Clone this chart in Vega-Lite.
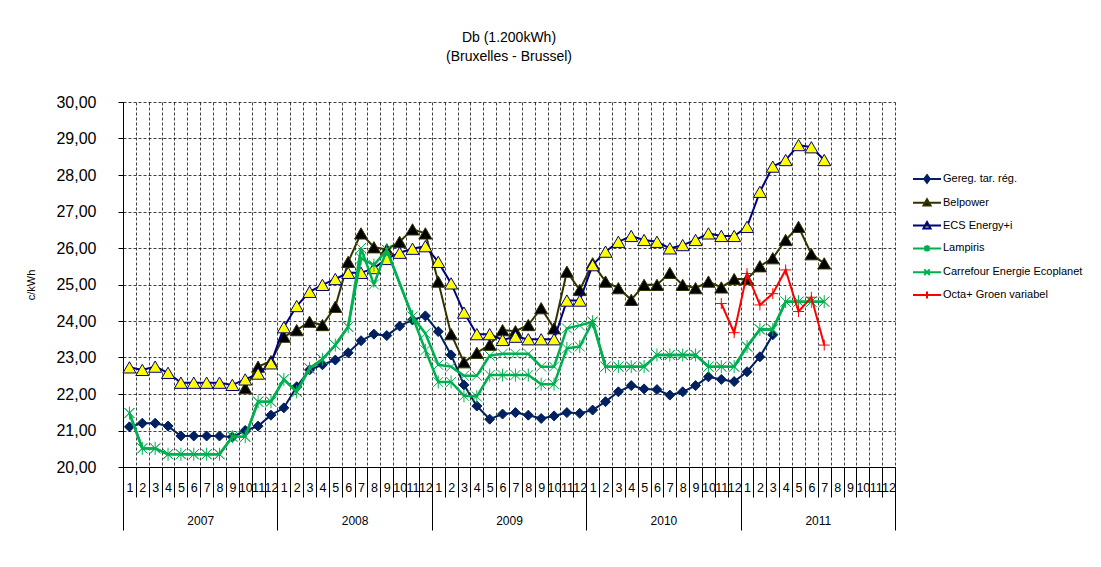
{
  "$schema": "https://vega.github.io/schema/vega-lite/v6.json",
  "width": 772,
  "height": 365,
  "autosize": {"type": "none"},
  "padding": {"left": 123, "top": 102, "right": 206, "bottom": 100},
  "background": "white",
  "title": {"text": ["Db (1.200kWh)", "(Bruxelles - Brussel)"], "fontSize": 14, "fontWeight": "normal", "anchor": "middle", "offset": 30, "lineHeight": 19, "color": "#000", "font": "Liberation Sans"},
  "config": {
    "font": "Liberation Sans",
    "view": {"stroke": null},
    "axis": {"labelFont": "Liberation Sans", "titleFont": "Liberation Sans", "labelColor": "#000", "titleColor": "#000"},
    "legend": {"orient": "none", "legendX": 796, "legendY": 69, "title": null, "labelFont": "Liberation Sans", "labelFontSize": 11, "labelColor": "#000", "symbolSize": 196, "symbolStrokeWidth": 2, "rowPadding": 7.8, "labelOffset": 8, "symbolOpacity": 1}
  },
  "data": {"values": [
    {"s":"Gereg. tar. rég.","t":1,"v":21.1},{"s":"Gereg. tar. rég.","t":2,"v":21.2},{"s":"Gereg. tar. rég.","t":3,"v":21.2},{"s":"Gereg. tar. rég.","t":4,"v":21.12},{"s":"Gereg. tar. rég.","t":5,"v":20.85},{"s":"Gereg. tar. rég.","t":6,"v":20.85},{"s":"Gereg. tar. rég.","t":7,"v":20.85},{"s":"Gereg. tar. rég.","t":8,"v":20.85},{"s":"Gereg. tar. rég.","t":9,"v":20.82},{"s":"Gereg. tar. rég.","t":10,"v":21.0},{"s":"Gereg. tar. rég.","t":11,"v":21.12},{"s":"Gereg. tar. rég.","t":12,"v":21.42},
    {"s":"Gereg. tar. rég.","t":13,"v":21.62},{"s":"Gereg. tar. rég.","t":14,"v":22.2},{"s":"Gereg. tar. rég.","t":15,"v":22.66},{"s":"Gereg. tar. rég.","t":16,"v":22.8},{"s":"Gereg. tar. rég.","t":17,"v":22.93},{"s":"Gereg. tar. rég.","t":18,"v":23.13},{"s":"Gereg. tar. rég.","t":19,"v":23.46},{"s":"Gereg. tar. rég.","t":20,"v":23.64},{"s":"Gereg. tar. rég.","t":21,"v":23.6},{"s":"Gereg. tar. rég.","t":22,"v":23.86},{"s":"Gereg. tar. rég.","t":23,"v":24.03},{"s":"Gereg. tar. rég.","t":24,"v":24.14},
    {"s":"Gereg. tar. rég.","t":25,"v":23.71},{"s":"Gereg. tar. rég.","t":26,"v":23.07},{"s":"Gereg. tar. rég.","t":27,"v":22.25},{"s":"Gereg. tar. rég.","t":28,"v":21.67},{"s":"Gereg. tar. rég.","t":29,"v":21.31},{"s":"Gereg. tar. rég.","t":30,"v":21.45},{"s":"Gereg. tar. rég.","t":31,"v":21.49},{"s":"Gereg. tar. rég.","t":32,"v":21.42},{"s":"Gereg. tar. rég.","t":33,"v":21.33},{"s":"Gereg. tar. rég.","t":34,"v":21.4},{"s":"Gereg. tar. rég.","t":35,"v":21.49},{"s":"Gereg. tar. rég.","t":36,"v":21.47},
    {"s":"Gereg. tar. rég.","t":37,"v":21.56},{"s":"Gereg. tar. rég.","t":38,"v":21.79},{"s":"Gereg. tar. rég.","t":39,"v":22.06},{"s":"Gereg. tar. rég.","t":40,"v":22.23},{"s":"Gereg. tar. rég.","t":41,"v":22.14},{"s":"Gereg. tar. rég.","t":42,"v":22.12},{"s":"Gereg. tar. rég.","t":43,"v":21.97},{"s":"Gereg. tar. rég.","t":44,"v":22.06},{"s":"Gereg. tar. rég.","t":45,"v":22.23},{"s":"Gereg. tar. rég.","t":46,"v":22.47},{"s":"Gereg. tar. rég.","t":47,"v":22.4},{"s":"Gereg. tar. rég.","t":48,"v":22.34},
    {"s":"Gereg. tar. rég.","t":49,"v":22.61},{"s":"Gereg. tar. rég.","t":50,"v":23.02},{"s":"Gereg. tar. rég.","t":51,"v":23.62},
    {"s":"Belpower","t":10,"v":22.16},{"s":"Belpower","t":11,"v":22.75},{"s":"Belpower","t":12,"v":22.9},
    {"s":"Belpower","t":13,"v":23.57},{"s":"Belpower","t":14,"v":23.75},{"s":"Belpower","t":15,"v":23.98},{"s":"Belpower","t":16,"v":23.89},{"s":"Belpower","t":17,"v":24.39},{"s":"Belpower","t":18,"v":25.62},{"s":"Belpower","t":19,"v":26.4},{"s":"Belpower","t":20,"v":26.02},{"s":"Belpower","t":21,"v":25.96},{"s":"Belpower","t":22,"v":26.17},{"s":"Belpower","t":23,"v":26.51},{"s":"Belpower","t":24,"v":26.4},
    {"s":"Belpower","t":25,"v":25.08},{"s":"Belpower","t":26,"v":23.64},{"s":"Belpower","t":27,"v":22.87},{"s":"Belpower","t":28,"v":23.13},{"s":"Belpower","t":29,"v":23.35},{"s":"Belpower","t":30,"v":23.75},{"s":"Belpower","t":31,"v":23.72},{"s":"Belpower","t":32,"v":23.89},{"s":"Belpower","t":33,"v":24.35},{"s":"Belpower","t":34,"v":23.8},{"s":"Belpower","t":35,"v":25.35},{"s":"Belpower","t":36,"v":24.85},
    {"s":"Belpower","t":37,"v":25.58},{"s":"Belpower","t":38,"v":25.08},{"s":"Belpower","t":39,"v":24.9},{"s":"Belpower","t":40,"v":24.58},{"s":"Belpower","t":41,"v":24.99},{"s":"Belpower","t":42,"v":24.99},{"s":"Belpower","t":43,"v":25.32},{"s":"Belpower","t":44,"v":24.99},{"s":"Belpower","t":45,"v":24.9},{"s":"Belpower","t":46,"v":25.08},{"s":"Belpower","t":47,"v":24.92},{"s":"Belpower","t":48,"v":25.15},
    {"s":"Belpower","t":49,"v":25.15},{"s":"Belpower","t":50,"v":25.5},{"s":"Belpower","t":51,"v":25.72},{"s":"Belpower","t":52,"v":26.22},{"s":"Belpower","t":53,"v":26.58},{"s":"Belpower","t":54,"v":25.83},{"s":"Belpower","t":55,"v":25.58},
    {"s":"ECS Energy+i","t":1,"v":22.73},{"s":"ECS Energy+i","t":2,"v":22.66},{"s":"ECS Energy+i","t":3,"v":22.75},{"s":"ECS Energy+i","t":4,"v":22.58},{"s":"ECS Energy+i","t":5,"v":22.31},{"s":"ECS Energy+i","t":6,"v":22.31},{"s":"ECS Energy+i","t":7,"v":22.31},{"s":"ECS Energy+i","t":8,"v":22.31},{"s":"ECS Energy+i","t":9,"v":22.25},{"s":"ECS Energy+i","t":10,"v":22.4},{"s":"ECS Energy+i","t":11,"v":22.56},{"s":"ECS Energy+i","t":12,"v":22.84},
    {"s":"ECS Energy+i","t":13,"v":23.83},{"s":"ECS Energy+i","t":14,"v":24.41},{"s":"ECS Energy+i","t":15,"v":24.8},{"s":"ECS Energy+i","t":16,"v":24.99},{"s":"ECS Energy+i","t":17,"v":25.15},{"s":"ECS Energy+i","t":18,"v":25.32},{"s":"ECS Energy+i","t":19,"v":25.32},{"s":"ECS Energy+i","t":20,"v":25.45},{"s":"ECS Energy+i","t":21,"v":25.7},{"s":"ECS Energy+i","t":22,"v":25.87},{"s":"ECS Energy+i","t":23,"v":25.98},{"s":"ECS Energy+i","t":24,"v":26.05},
    {"s":"ECS Energy+i","t":25,"v":25.62},{"s":"ECS Energy+i","t":26,"v":25.03},{"s":"ECS Energy+i","t":27,"v":24.23},{"s":"ECS Energy+i","t":28,"v":23.64},{"s":"ECS Energy+i","t":29,"v":23.64},{"s":"ECS Energy+i","t":30,"v":23.48},{"s":"ECS Energy+i","t":31,"v":23.57},{"s":"ECS Energy+i","t":32,"v":23.5},{"s":"ECS Energy+i","t":33,"v":23.5},{"s":"ECS Energy+i","t":34,"v":23.5},{"s":"ECS Energy+i","t":35,"v":24.56},{"s":"ECS Energy+i","t":36,"v":24.56},
    {"s":"ECS Energy+i","t":37,"v":25.53},{"s":"ECS Energy+i","t":38,"v":25.9},{"s":"ECS Energy+i","t":39,"v":26.17},{"s":"ECS Energy+i","t":40,"v":26.33},{"s":"ECS Energy+i","t":41,"v":26.22},{"s":"ECS Energy+i","t":42,"v":26.17},{"s":"ECS Energy+i","t":43,"v":25.99},{"s":"ECS Energy+i","t":44,"v":26.08},{"s":"ECS Energy+i","t":45,"v":26.22},{"s":"ECS Energy+i","t":46,"v":26.4},{"s":"ECS Energy+i","t":47,"v":26.33},{"s":"ECS Energy+i","t":48,"v":26.33},
    {"s":"ECS Energy+i","t":49,"v":26.58},{"s":"ECS Energy+i","t":50,"v":27.54},{"s":"ECS Energy+i","t":51,"v":28.23},{"s":"ECS Energy+i","t":52,"v":28.41},{"s":"ECS Energy+i","t":53,"v":28.82},{"s":"ECS Energy+i","t":54,"v":28.76},{"s":"ECS Energy+i","t":55,"v":28.41},
    {"s":"Lampiris","t":1,"v":21.48},{"s":"Lampiris","t":2,"v":20.51},{"s":"Lampiris","t":3,"v":20.51},{"s":"Lampiris","t":4,"v":20.35},{"s":"Lampiris","t":5,"v":20.35},{"s":"Lampiris","t":6,"v":20.35},{"s":"Lampiris","t":7,"v":20.35},{"s":"Lampiris","t":8,"v":20.35},{"s":"Lampiris","t":9,"v":20.83},{"s":"Lampiris","t":10,"v":20.83},{"s":"Lampiris","t":11,"v":21.79},{"s":"Lampiris","t":12,"v":21.79},
    {"s":"Lampiris","t":13,"v":22.4},{"s":"Lampiris","t":14,"v":22.06},{"s":"Lampiris","t":15,"v":22.7},{"s":"Lampiris","t":16,"v":22.95},{"s":"Lampiris","t":17,"v":23.34},{"s":"Lampiris","t":18,"v":23.84},{"s":"Lampiris","t":19,"v":25.72},{"s":"Lampiris","t":20,"v":25.53},{"s":"Lampiris","t":21,"v":25.95},{"s":"Lampiris","t":23,"v":24.12},{"s":"Lampiris","t":24,"v":23.2},
    {"s":"Lampiris","t":25,"v":22.33},{"s":"Lampiris","t":26,"v":22.33},{"s":"Lampiris","t":27,"v":21.95},{"s":"Lampiris","t":28,"v":21.93},{"s":"Lampiris","t":29,"v":22.52},{"s":"Lampiris","t":30,"v":22.52},{"s":"Lampiris","t":31,"v":22.52},{"s":"Lampiris","t":32,"v":22.52},{"s":"Lampiris","t":33,"v":22.27},{"s":"Lampiris","t":34,"v":22.27},{"s":"Lampiris","t":35,"v":23.25},{"s":"Lampiris","t":36,"v":23.3},
    {"s":"Lampiris","t":37,"v":23.98},{"s":"Lampiris","t":38,"v":22.75},{"s":"Lampiris","t":39,"v":22.75},{"s":"Lampiris","t":40,"v":22.75},{"s":"Lampiris","t":41,"v":22.75},{"s":"Lampiris","t":42,"v":23.07},{"s":"Lampiris","t":43,"v":23.07},{"s":"Lampiris","t":44,"v":23.07},{"s":"Lampiris","t":45,"v":23.07},{"s":"Lampiris","t":46,"v":22.75},{"s":"Lampiris","t":47,"v":22.75},{"s":"Lampiris","t":48,"v":22.75},
    {"s":"Lampiris","t":49,"v":23.3},{"s":"Lampiris","t":50,"v":23.77},{"s":"Lampiris","t":51,"v":23.77},{"s":"Lampiris","t":52,"v":24.53},{"s":"Lampiris","t":53,"v":24.53},{"s":"Lampiris","t":54,"v":24.53},{"s":"Lampiris","t":55,"v":24.53},
    {"s":"Carrefour Energie Ecoplanet","t":1,"v":21.48},{"s":"Carrefour Energie Ecoplanet","t":2,"v":20.51},{"s":"Carrefour Energie Ecoplanet","t":3,"v":20.51},{"s":"Carrefour Energie Ecoplanet","t":4,"v":20.35},{"s":"Carrefour Energie Ecoplanet","t":5,"v":20.35},{"s":"Carrefour Energie Ecoplanet","t":6,"v":20.35},{"s":"Carrefour Energie Ecoplanet","t":7,"v":20.35},{"s":"Carrefour Energie Ecoplanet","t":8,"v":20.35},{"s":"Carrefour Energie Ecoplanet","t":9,"v":20.83},{"s":"Carrefour Energie Ecoplanet","t":10,"v":20.83},{"s":"Carrefour Energie Ecoplanet","t":11,"v":21.79},{"s":"Carrefour Energie Ecoplanet","t":12,"v":21.79},
    {"s":"Carrefour Energie Ecoplanet","t":13,"v":22.4},{"s":"Carrefour Energie Ecoplanet","t":14,"v":22.06},{"s":"Carrefour Energie Ecoplanet","t":15,"v":22.7},{"s":"Carrefour Energie Ecoplanet","t":16,"v":22.95},{"s":"Carrefour Energie Ecoplanet","t":17,"v":23.34},{"s":"Carrefour Energie Ecoplanet","t":18,"v":23.84},{"s":"Carrefour Energie Ecoplanet","t":19,"v":26.0},{"s":"Carrefour Energie Ecoplanet","t":20,"v":25.0},{"s":"Carrefour Energie Ecoplanet","t":21,"v":25.95},{"s":"Carrefour Energie Ecoplanet","t":23,"v":24.12},{"s":"Carrefour Energie Ecoplanet","t":24,"v":23.66},
    {"s":"Carrefour Energie Ecoplanet","t":25,"v":22.8},{"s":"Carrefour Energie Ecoplanet","t":26,"v":22.75},{"s":"Carrefour Energie Ecoplanet","t":27,"v":22.5},{"s":"Carrefour Energie Ecoplanet","t":28,"v":22.5},{"s":"Carrefour Energie Ecoplanet","t":29,"v":23.05},{"s":"Carrefour Energie Ecoplanet","t":30,"v":23.1},{"s":"Carrefour Energie Ecoplanet","t":31,"v":23.1},{"s":"Carrefour Energie Ecoplanet","t":32,"v":23.1},{"s":"Carrefour Energie Ecoplanet","t":33,"v":22.75},{"s":"Carrefour Energie Ecoplanet","t":34,"v":22.75},{"s":"Carrefour Energie Ecoplanet","t":35,"v":23.8},{"s":"Carrefour Energie Ecoplanet","t":36,"v":23.88},
    {"s":"Carrefour Energie Ecoplanet","t":37,"v":23.98},{"s":"Carrefour Energie Ecoplanet","t":38,"v":22.75},{"s":"Carrefour Energie Ecoplanet","t":39,"v":22.75},{"s":"Carrefour Energie Ecoplanet","t":40,"v":22.75},{"s":"Carrefour Energie Ecoplanet","t":41,"v":22.75},{"s":"Carrefour Energie Ecoplanet","t":42,"v":23.07},{"s":"Carrefour Energie Ecoplanet","t":43,"v":23.07},{"s":"Carrefour Energie Ecoplanet","t":44,"v":23.07},{"s":"Carrefour Energie Ecoplanet","t":45,"v":23.07},{"s":"Carrefour Energie Ecoplanet","t":46,"v":22.75},{"s":"Carrefour Energie Ecoplanet","t":47,"v":22.75},{"s":"Carrefour Energie Ecoplanet","t":48,"v":22.75},
    {"s":"Carrefour Energie Ecoplanet","t":49,"v":23.3},{"s":"Carrefour Energie Ecoplanet","t":50,"v":23.77},{"s":"Carrefour Energie Ecoplanet","t":51,"v":23.77},{"s":"Carrefour Energie Ecoplanet","t":52,"v":24.53},{"s":"Carrefour Energie Ecoplanet","t":53,"v":24.53},{"s":"Carrefour Energie Ecoplanet","t":54,"v":24.53},{"s":"Carrefour Energie Ecoplanet","t":55,"v":24.53},
    {"s":"Octa+ Groen variabel","t":47,"v":24.48},{"s":"Octa+ Groen variabel","t":48,"v":23.68},{"s":"Octa+ Groen variabel","t":49,"v":25.3},{"s":"Octa+ Groen variabel","t":50,"v":24.44},{"s":"Octa+ Groen variabel","t":51,"v":24.75},{"s":"Octa+ Groen variabel","t":52,"v":25.4},{"s":"Octa+ Groen variabel","t":53,"v":24.26},{"s":"Octa+ Groen variabel","t":54,"v":24.65},{"s":"Octa+ Groen variabel","t":55,"v":23.34}
  ]},
  "resolve": {"axis": {"x": "independent", "y": "independent"}},
  "layer": [
    {
      "transform": [{"filter": "datum.s === 'Gereg. tar. rég.'"}],
      "mark": {"type": "line", "color": "#002060", "strokeWidth": 2},
      "encoding": {
        "x": {"field": "t", "type": "quantitative", "scale": {"domain": [0.5, 60.5], "nice": false, "zero": false},
          "axis": {"orient": "bottom", "title": null, "values": [0.5,1.5,2.5,3.5,4.5,5.5,6.5,7.5,8.5,9.5,10.5,11.5,12.5,13.5,14.5,15.5,16.5,17.5,18.5,19.5,20.5,21.5,22.5,23.5,24.5,25.5,26.5,27.5,28.5,29.5,30.5,31.5,32.5,33.5,34.5,35.5,36.5,37.5,38.5,39.5,40.5,41.5,42.5,43.5,44.5,45.5,46.5,47.5,48.5,49.5,50.5,51.5,52.5,53.5,54.5,55.5,56.5,57.5,58.5,59.5,60.5],
            "labels": false, "ticks": true, "tickSize": 30, "tickColor": "#000", "tickWidth": 1, "domain": true, "domainColor": "#000", "domainWidth": 1,
            "grid": true, "gridColor": "#000", "gridDash": [3, 2], "gridOpacity": 0.75, "gridWidth": 1}},
        "y": {"field": "v", "type": "quantitative", "scale": {"domain": [20, 30], "nice": false, "zero": false},
          "axis": {"orient": "left", "values": [20,21,22,23,24,25,26,27,28,29,30], "labelExpr": "replace(format(datum.value, '.2f'), '.', ',')", "labelOverlap": false, "labelBound": false, "labelFlush": false,
            "grid": true, "gridColor": "#000", "gridDash": [3, 2], "gridOpacity": 0.75, "gridWidth": 1,
            "tickSize": 5, "tickColor": "#000", "domainColor": "#000", "labelFontSize": 16, "labelPadding": 22,
            "title": "c/kWh", "titleFontSize": 11, "titleFontWeight": "normal", "titlePadding": 19}}
      }
    },
    {
      "transform": [{"filter": "datum.s === 'Gereg. tar. rég.'"}],
      "mark": {"type": "point", "shape": "diamond", "filled": true, "fill": "#002060", "stroke": "#002060", "strokeWidth": 1, "size": 100, "opacity": 1},
      "encoding": {
        "x": {"field": "t", "type": "quantitative", "scale": {"domain": [0.5, 60.5], "nice": false, "zero": false},
          "axis": {"orient": "bottom", "title": null, "values": [1,2,3,4,5,6,7,8,9,10,11,12,13,14,15,16,17,18,19,20,21,22,23,24,25,26,27,28,29,30,31,32,33,34,35,36,37,38,39,40,41,42,43,44,45,46,47,48,49,50,51,52,53,54,55,56,57,58,59,60],
            "labelExpr": "(datum.value - 1) % 12 + 1", "ticks": false, "domain": false, "grid": false, "labelFontSize": 12.5, "labelPadding": 14, "labelOverlap": false, "labelBound": false, "labelFlush": false}},
        "y": {"field": "v", "type": "quantitative", "scale": {"domain": [20, 30], "nice": false, "zero": false}, "axis": null}
      }
    },
    {
      "transform": [{"filter": "datum.s === 'Belpower'"}],
      "mark": {"type": "line", "color": "#333300", "strokeWidth": 2},
      "encoding": {
        "x": {"field": "t", "type": "quantitative", "scale": {"domain": [0.5, 60.5], "nice": false, "zero": false},
          "axis": {"orient": "bottom", "title": null, "values": [0.5, 12.5, 24.5, 36.5, 48.5, 60.5], "labels": false, "ticks": true, "tickSize": 63, "tickColor": "#000", "domain": false, "grid": false}},
        "y": {"field": "v", "type": "quantitative", "scale": {"domain": [20, 30], "nice": false, "zero": false}, "axis": null}
      }
    },
    {
      "transform": [{"filter": "datum.s === 'Belpower'"}],
      "mark": {"type": "point", "shape": "triangle-up", "filled": true, "fill": "#000000", "stroke": "#333300", "strokeWidth": 1, "size": 169, "opacity": 1},
      "encoding": {
        "x": {"field": "t", "type": "quantitative", "scale": {"domain": [0.5, 60.5], "nice": false, "zero": false},
          "axis": {"orient": "bottom", "title": null, "values": [6.5, 18.5, 30.5, 42.5, 54.5], "labelExpr": "'' + (2007 + floor(datum.value / 12))", "ticks": false, "domain": false, "grid": false, "labelFontSize": 12, "labelPadding": 48, "labelOverlap": false}},
        "y": {"field": "v", "type": "quantitative", "scale": {"domain": [20, 30], "nice": false, "zero": false}, "axis": null}
      }
    },
    {
      "transform": [{"filter": "datum.s === 'ECS Energy+i'"}],
      "mark": {"type": "line", "color": "#000080", "strokeWidth": 2},
      "encoding": {
        "x": {"field": "t", "type": "quantitative", "scale": {"domain": [0.5, 60.5], "nice": false, "zero": false}, "axis": null},
        "y": {"field": "v", "type": "quantitative", "scale": {"domain": [20, 30], "nice": false, "zero": false}, "axis": null}
      }
    },
    {
      "transform": [{"filter": "datum.s === 'ECS Energy+i'"}],
      "mark": {"type": "point", "shape": "triangle-up", "filled": true, "fill": "#FFFF00", "stroke": "#000080", "strokeWidth": 1, "size": 169, "opacity": 1},
      "encoding": {
        "x": {"field": "t", "type": "quantitative", "scale": {"domain": [0.5, 60.5], "nice": false, "zero": false}, "axis": null},
        "y": {"field": "v", "type": "quantitative", "scale": {"domain": [20, 30], "nice": false, "zero": false}, "axis": null}
      }
    },
    {
      "transform": [{"filter": "datum.s === 'Lampiris'"}],
      "mark": {"type": "line", "color": "#00B050", "strokeWidth": 2.5},
      "encoding": {
        "x": {"field": "t", "type": "quantitative", "scale": {"domain": [0.5, 60.5], "nice": false, "zero": false}, "axis": null},
        "y": {"field": "v", "type": "quantitative", "scale": {"domain": [20, 30], "nice": false, "zero": false}, "axis": null}
      }
    },
    {
      "transform": [{"filter": "datum.s === 'Lampiris'"}],
      "mark": {"type": "point", "shape": "M-1,-1L1,1M-1,1L1,-1M0,-1.3L0,1.3", "filled": false, "stroke": "#00B050", "strokeWidth": 1, "size": 100, "opacity": 1},
      "encoding": {
        "x": {"field": "t", "type": "quantitative", "scale": {"domain": [0.5, 60.5], "nice": false, "zero": false}, "axis": null},
        "y": {"field": "v", "type": "quantitative", "scale": {"domain": [20, 30], "nice": false, "zero": false}, "axis": null}
      }
    },
    {
      "transform": [{"filter": "datum.s === 'Carrefour Energie Ecoplanet'"}],
      "mark": {"type": "line", "color": "#00B050", "strokeWidth": 2.5},
      "encoding": {
        "x": {"field": "t", "type": "quantitative", "scale": {"domain": [0.5, 60.5], "nice": false, "zero": false}, "axis": null},
        "y": {"field": "v", "type": "quantitative", "scale": {"domain": [20, 30], "nice": false, "zero": false}, "axis": null}
      }
    },
    {
      "transform": [{"filter": "datum.s === 'Carrefour Energie Ecoplanet'"}],
      "mark": {"type": "point", "shape": "M-1,-1L1,1M-1,1L1,-1", "filled": false, "stroke": "#00B050", "strokeWidth": 1, "size": 100, "opacity": 1},
      "encoding": {
        "x": {"field": "t", "type": "quantitative", "scale": {"domain": [0.5, 60.5], "nice": false, "zero": false}, "axis": null},
        "y": {"field": "v", "type": "quantitative", "scale": {"domain": [20, 30], "nice": false, "zero": false}, "axis": null}
      }
    },
    {
      "transform": [{"filter": "datum.s === 'Octa+ Groen variabel'"}],
      "mark": {"type": "line", "color": "#FF0000", "strokeWidth": 2},
      "encoding": {
        "x": {"field": "t", "type": "quantitative", "scale": {"domain": [0.5, 60.5], "nice": false, "zero": false}, "axis": null},
        "y": {"field": "v", "type": "quantitative", "scale": {"domain": [20, 30], "nice": false, "zero": false}, "axis": null}
      }
    },
    {
      "transform": [{"filter": "datum.s === 'Octa+ Groen variabel'"}],
      "mark": {"type": "point", "shape": "M-1,0L1,0M0,-1L0,1", "filled": false, "stroke": "#FF0000", "strokeWidth": 1, "size": 120, "opacity": 1},
      "encoding": {
        "x": {"field": "t", "type": "quantitative", "scale": {"domain": [0.5, 60.5], "nice": false, "zero": false}, "axis": null},
        "y": {"field": "v", "type": "quantitative", "scale": {"domain": [20, 30], "nice": false, "zero": false}, "axis": null}
      }
    },
    {
      "transform": [{"filter": "datum.v < 0"}],
      "mark": {"type": "point", "filled": true, "size": 196, "strokeWidth": 2, "opacity": 1},
      "encoding": {
        "x": {"field": "t", "type": "quantitative", "scale": {"domain": [0.5, 60.5], "nice": false, "zero": false}, "axis": null},
        "y": {"field": "v", "type": "quantitative", "scale": {"domain": [20, 30], "nice": false, "zero": false}, "axis": null},
        "shape": {"field": "s", "type": "nominal", "title": null,
          "scale": {"domain": ["Gereg. tar. rég.", "Belpower", "ECS Energy+i", "Lampiris", "Carrefour Energie Ecoplanet", "Octa+ Groen variabel"],
            "range": ["M-2,0L2,0M0,-0.55L0.4,0L0,0.55L-0.4,0Z", "M-2,0L2,0M0,-0.5L0.5,0.4L-0.5,0.4Z", "M-2,0L2,0M0,-0.5L0.5,0.4L-0.5,0.4Z", "M-2,0L2,0M-0.35,-0.35L0.35,0.35M-0.35,0.35L0.35,-0.35M0,-0.45L0,0.45", "M-2,0L2,0M-0.4,-0.4L0.4,0.4M-0.4,0.4L0.4,-0.4", "M-2,0L2,0M0,-0.5L0,0.5"]}},
        "stroke": {"field": "s", "type": "nominal", "title": null,
          "scale": {"domain": ["Gereg. tar. rég.", "Belpower", "ECS Energy+i", "Lampiris", "Carrefour Energie Ecoplanet", "Octa+ Groen variabel"],
            "range": ["#002060", "#333300", "#000080", "#00B050", "#00B050", "#FF0000"]}},
        "fill": {"field": "s", "type": "nominal", "title": null,
          "scale": {"domain": ["Gereg. tar. rég.", "Belpower", "ECS Energy+i", "Lampiris", "Carrefour Energie Ecoplanet", "Octa+ Groen variabel"],
            "range": ["#002060", "#000000", "#FFFF00", "transparent", "transparent", "transparent"]}}
      }
    }
  ]
}
